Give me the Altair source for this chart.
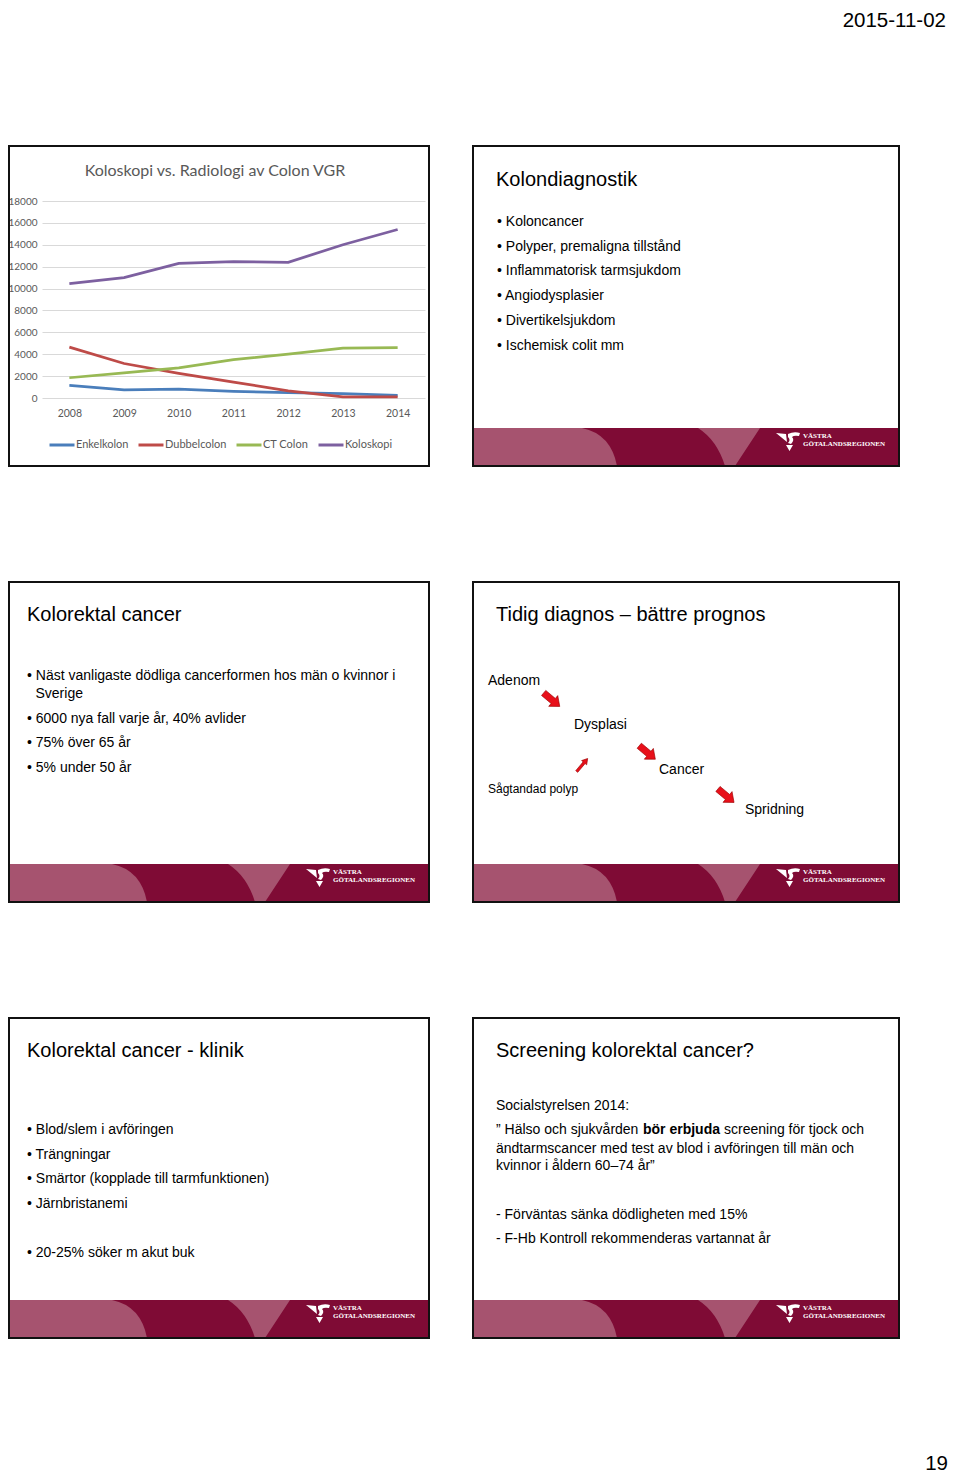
import altair as alt
import pandas as pd

# ------------------------------------------------------------------ data
years = ["2008", "2009", "2010", "2011", "2012", "2013", "2014"]
series_names = ["Enkelkolon", "Dubbelcolon", "CT Colon", "Koloskopi"]
enkelkolon = [1150, 750, 800, 600, 500, 400, 250]
dubbelcolon = [4650, 3150, 2250, 1450, 650, 100, 100]
ct_colon = [1850, 2300, 2750, 3500, 4000, 4550, 4600]
koloskopi = [10450, 11000, 12300, 12450, 12400, 14000, 15400]
y_tick_values = [0, 2000, 4000, 6000, 8000, 10000, 12000, 14000, 16000, 18000]
chart_title = "Koloskopi vs. Radiologi av Colon VGR"

page_date = "2015-11-02"
page_number = "19"

s2_title = "Kolondiagnostik"
s2_bullets = ["Koloncancer", "Polyper, premaligna tillstånd", "Inflammatorisk tarmsjukdom",
              "Angiodysplasier", "Divertikelsjukdom", "Ischemisk colit mm"]
s3_title = "Kolorektal cancer"
s3_lines = ["• Näst vanligaste dödliga cancerformen hos män o kvinnor i", "Sverige",
            "• 6000 nya fall varje år, 40% avlider", "• 75% över 65 år", "• 5% under 50 år"]
s4_title = "Tidig diagnos – bättre prognos"
s4_stages = ["Adenom", "Dysplasi", "Cancer", "Spridning"]
s4_side = "Sågtandad polyp"
s5_title = "Kolorektal cancer - klinik"
s5_bullets = ["Blod/slem i avföringen", "Trängningar", "Smärtor (kopplade till tarmfunktionen)",
              "Järnbristanemi", "20-25% söker m akut buk"]
s6_title = "Screening kolorektal cancer?"
s6_source = "Socialstyrelsen 2014:"
s6_quote_start = "” Hälso och sjukvården"
s6_quote_bold = "bör erbjuda"
s6_quote_end = "screening för tjock och"
s6_quote_lines = ["ändtarmscancer med test av blod i avföringen till män och",
                  "kvinnor i åldern 60–74 år”"]
s6_points = ["- Förväntas sänka dödligheten med 15%",
             "- F-Hb Kontroll rekommenderas vartannat år"]
logo_lines = ["VÄSTRA", "GÖTALANDSREGIONEN"]

# ------------------------------------------------------------------ layout
SANS = "Liberation Sans, Arial, Helvetica, sans-serif"
CHARTFONT = "Lato, Open Sans, sans-serif"
SERIF = "Liberation Serif, DejaVu Serif, serif"
GREY = "#595959"
DARK = "#7F0B35"
LIGHT = "#A6536F"
COLORS = ["#4A7EBB", "#BE4B48", "#98B954", "#7D60A0"]

OX, OY = 42, 201          # plot-area origin, page pixels
PLOT_W, PLOT_H = 383, 197
SVG_RIGHT = 952
SVG_BOTTOM = 1474


def tx(x):
    return x - OX


def ty(y):
    return y - OY


def px(field):
    return alt.X(f"{field}:Q", scale=None, axis=None)


def py(field):
    return alt.Y(f"{field}:Q", scale=None, axis=None)


COL_L = [3, 473]
COL_R = [429, 899]
ROW_T = [146, 582, 1018]
ROW_B = [466, 902, 1338]
BAND_H = 38
slides = [(c, r) for r in range(3) for c in range(2)]
band_slides = slides[1:]

# texts ---------------------------------------------------------------
rows = []


def add(text, x, y, style):
    rows.append({"text": text, "x": tx(x), "y": ty(y), "style": style})


add(page_date, 946, 21, "date")
add(page_number, 948, 1464, "date")
add(chart_title, 215, 171, "ctitle")

add(s2_title, 496, 180, "title")
for t, y in zip(s2_bullets, [222, 247, 271, 296, 321, 346]):
    add("• " + t, 497, y, "body")

add(s3_title, 27, 615, "title")
for t, y in zip(s3_lines, [676, 694, 719, 743, 768]):
    add(t, 27 if t.startswith("•") else 35.5, y, "body")

add(s4_title, 496, 615, "title")
for t, (x, y) in zip(s4_stages, [(488, 681), (574, 725), (659, 770), (745, 810)]):
    add(t, x, y, "body")
add(s4_side, 488, 789, "small")

add(s5_title, 27, 1051, "title")
for t, y in zip(s5_bullets, [1130, 1155, 1179, 1204, 1253]):
    add("• " + t, 27, y, "body")

add(s6_title, 496, 1051, "title")
add(s6_source, 496, 1106, "body")
add(s6_quote_start, 496, 1130, "body")
add(s6_quote_bold, 643, 1130, "bold")
add(s6_quote_end, 724, 1130, "body")
for t, y in zip(s6_quote_lines, [1149, 1166]):
    add(t, 496, y, "body")
for t, y in zip(s6_points, [1215, 1239]):
    add(t, 496, y, "body")

for c, r in band_slides:
    add(logo_lines[0], COL_L[c] + 330, ROW_B[r] - 30, "logo")
    add(logo_lines[1], COL_L[c] + 330, ROW_B[r] - 22, "logo")

texts = pd.DataFrame(rows)

STYLES = {
    "date": dict(font=SANS, fontSize=20.5, align="right", color="#000000"),
    "title": dict(font=SANS, fontSize=20, align="left", color="#000000"),
    "body": dict(font=SANS, fontSize=14, align="left", color="#000000"),
    "bold": dict(font=SANS, fontSize=14, align="left", color="#000000", fontWeight="bold"),
    "small": dict(font=SANS, fontSize=12, align="left", color="#000000"),
    "ctitle": dict(font=CHARTFONT, fontSize=16, align="center", color=GREY),
    "logo": dict(font=SERIF, fontSize=7, align="left", color="#FFFFFF", fontWeight="bold"),
}

# frames, bands -----------------------------------------------------------
frames = pd.DataFrame([
    {"x": tx(max(COL_L[c], 9)), "x2": tx(COL_R[c]), "y": ty(ROW_T[r]), "y2": ty(ROW_B[r])}
    for c, r in slides
])
bands = pd.DataFrame([
    {"x": tx(COL_L[c]), "x2": tx(COL_R[c]), "y": ty(ROW_B[r] - BAND_H), "y2": ty(ROW_B[r])}
    for c, r in band_slides
])
band_anchor = pd.DataFrame([
    {"x": tx(COL_L[c]), "y": ty(ROW_B[r] - BAND_H)} for c, r in band_slides
])
logo_anchor = pd.DataFrame([
    {"x": tx(COL_L[c] + 303), "y": ty(ROW_B[r] - 34)} for c, r in band_slides
])

LIGHT1 = "M 0 0 L 109 0 Q 138 6 144 38 L 0 38 Z"
WEDGE = "M 225 0 L 287 0 L 262 38 L 252 38 Q 244 12 225 0 Z"
LOGO = ("M 0 1 L 10 2 L 11 10 Z "
        "M 12 2 Q 18 -1 24 1 L 23 4 Q 18 3 16 5 Q 19 8 15 12 L 12 11 Q 15 8 12 5 Z "
        "M 10 13 L 17 13 L 13.5 19 Z")
BIG_ARROW = "M -10.5 -3.3 L 2 -3.3 L 2 -7 L 10.5 0 L 2 7 L 2 3.3 L -10.5 3.3 Z"
SMALL_ARROW = "M -8.5 -1.3 L 3 -1.3 L 3 -3.3 L 8.5 0 L 3 3.3 L 3 1.3 L -8.5 1.3 Z"

big_arrows = pd.DataFrame([{"x": tx(x), "y": ty(y)} for x, y in
                           [(551.7, 699.7), (647.3, 752.5), (726.0, 795.7)]])
small_arrows = pd.DataFrame([{"x": tx(582.2), "y": ty(765)}])


def shape_layer(df, path, color, angle=0, stroke=None):
    kw = dict(shape=path, size=4, filled=True, color=color, opacity=1, angle=angle)
    if stroke:
        kw.update(stroke=stroke, strokeWidth=0.6)
    else:
        kw.update(strokeWidth=0)
    return alt.Chart(df).mark_point(**kw).encode(x=px("x"), y=py("y"))


layers = []
layers.append(alt.Chart(bands).mark_rect(color=DARK).encode(
    x=px("x"), x2="x2", y=py("y"), y2="y2"))
layers.append(shape_layer(band_anchor, LIGHT1, LIGHT))
layers.append(shape_layer(band_anchor, WEDGE, LIGHT))
layers.append(shape_layer(logo_anchor, LOGO, "#FFFFFF"))
layers.append(shape_layer(big_arrows, BIG_ARROW, "#E8101A", angle=40, stroke="#9A0000"))
layers.append(shape_layer(small_arrows, SMALL_ARROW, "#E8101A", angle=310, stroke="#9A0000"))

for style, kw in STYLES.items():
    sub = texts[texts["style"] == style]
    if len(sub) == 0:
        continue
    layers.append(alt.Chart(sub).mark_text(baseline="middle", **kw).encode(
        x=px("x"), y=py("y"), text="text:N"))

# line chart -----------------------------------------------------------------
series_values = [enkelkolon, dubbelcolon, ct_colon, koloskopi]
long_rows = []
for name, vals in zip(series_names, series_values):
    for yr, v in zip(years, vals):
        long_rows.append({"year": yr, "series": name, "value": v})
df_lines = pd.DataFrame(long_rows)

lines = alt.Chart(df_lines).mark_line(strokeWidth=2.75).encode(
    x=alt.X("year:O", sort=years,
            scale=alt.Scale(type="point", padding=0.5),
            axis=alt.Axis(title=None, labelAngle=0, labelPadding=10, ticks=False, domain=False,
                          grid=False, labelFont=CHARTFONT, labelFontSize=10.5,
                          labelColor=GREY)),
    y=alt.Y("value:Q", scale=alt.Scale(domain=[0, 18000], nice=False),
            axis=alt.Axis(title=None, values=y_tick_values, format="d", labelPadding=5,
                          ticks=False, domain=False, grid=True, gridColor="#D9D9D9",
                          gridWidth=1, labelFont=CHARTFONT, labelFontSize=10,
                          labelColor=GREY)),
    color=alt.Color("series:N", sort=series_names,
                    scale=alt.Scale(domain=series_names, range=COLORS),
                    legend=alt.Legend(orient="none", legendX=6, legendY=230,
                                      direction="horizontal", title=None,
                                      symbolType="stroke", symbolSize=625,
                                      symbolStrokeWidth=3, labelFont=CHARTFONT,
                                      labelFontSize=11, labelColor=GREY,
                                      labelOffset=0, columnPadding=3)),
    detail="series:N",
)
layers.append(lines)

layers.append(alt.Chart(frames).mark_rect(fill="transparent", stroke="#111111",
                                          strokeWidth=2).encode(
    x=px("x"), x2="x2", y=py("y"), y2="y2"))

chart = alt.layer(*layers).properties(
    width=PLOT_W, height=PLOT_H,
    autosize=alt.AutoSizeParams(type="none"),
    padding={"left": OX - 8, "top": OY - 8, "right": SVG_RIGHT - OX - PLOT_W,
             "bottom": SVG_BOTTOM - OY - PLOT_H},
    background="#FFFFFF",
).configure_view(stroke="transparent")

chart.save("out.html", embed_options={"renderer": "svg", "actions": False})
